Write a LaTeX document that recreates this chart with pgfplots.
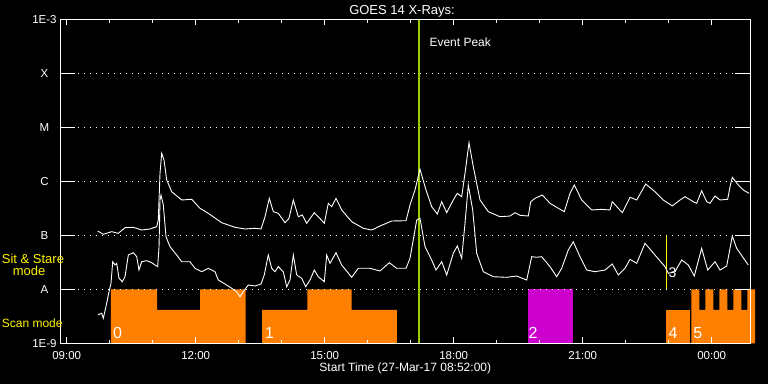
\documentclass[border=0pt]{standalone}
\usepackage{pgfplots}
\pgfplotsset{compat=1.18}
\usepackage{fontspec}
\setmainfont{Liberation Sans}
\definecolor{goesorange}{RGB}{255,128,0}
\definecolor{goesmag}{RGB}{204,0,204}
\definecolor{peakgreen}{RGB}{153,204,0}
\begin{document}
\begin{tikzpicture}[x=1pt,y=1pt]
\fill[black] (0,0) rectangle (768,384);
\begin{axis}[
  at={(60.3pt,40.7pt)}, anchor=south west,
  scale only axis, width=690pt, height=324pt,
  xmin=8.851, xmax=24.898, ymin=-9, ymax=-3,
  clip=false, axis on top,
  axis line style={white, line width=1pt},
  xtick={9,12,15,18,21,24},
  xticklabels={09:00,12:00,15:00,18:00,21:00,00:00},
  minor xtick={10,11,13,14,16,17,19,20,22,23},
  ytick={-9,-8,-7,-6,-5,-4,-3},
  yticklabels={1E-9,A,B,C,M,X,1E-3},
  tick align=inside,
  tick style={white, line width=1pt},
  xtick style={/pgfplots/major tick length=6pt, /pgfplots/minor tick length=3.5pt},
  ytick style={/pgfplots/major tick length=15pt},
  ymajorgrids,
  major grid style={white, line width=1pt, dash pattern=on 1pt off 5pt},
  /pgf/number format/assume math mode=true,
  xticklabel style={font=\fontsize{11.5}{13}\selectfont, text=white, anchor=base, yshift=-15.7pt},
  yticklabel style={font=\fontsize{11.5}{13}\selectfont, text=white, anchor=center, xshift=-15.8pt},
  title={},
  xlabel={Start Time (27-Mar-17 08:52:00)},
  xlabel style={font=\fontsize{12}{14}\selectfont, text=white, anchor=base, at={(axis description cs:0.5,0)}, yshift=-28.4pt},
]
% observing mode blocks
\addplot[fill=goesorange, draw=none] coordinates {(10.03,-9)(10.03,-8)(11.10,-8)(11.10,-8.383)(12.10,-8.383)(12.10,-8)(13.163,-8)(13.163,-9)} -- cycle;
\addplot[fill=goesorange, draw=none] coordinates {(13.542,-9)(13.542,-8.383)(14.595,-8.383)(14.595,-8)(15.628,-8)(15.628,-8.383)(16.681,-8.383)(16.681,-9)} -- cycle;
\addplot[fill=goesmag, draw=none] coordinates {(19.728,-9)(19.728,-8)(20.767,-8)(20.767,-9)} -- cycle;
\addplot[fill=goesorange, draw=none] coordinates {(22.947,-9)(22.947,-8.383)(23.505,-8.383)(23.505,-9)} -- cycle;
\addplot[fill=goesorange, draw=none] coordinates {(23.528,-9)(23.528,-8)(23.714,-8)(23.714,-8.383)(23.853,-8.383)(23.853,-8)(24.040,-8)(24.040,-8.383)(24.179,-8.383)(24.179,-8)(24.365,-8)(24.365,-8.383)(24.505,-8.383)(24.505,-8)(24.691,-8)(24.691,-8.383)(24.830,-8.383)(24.830,-8)(25.009,-8)(25.009,-9)} -- cycle;
% event peak and marker lines
\addplot[peakgreen, line width=2pt] coordinates {(17.193,-9)(17.193,-3)};
\addplot[yellow, line width=1pt] coordinates {(22.944,-7)(22.944,-8)};
% long channel
\addplot[white, line width=0.9pt] coordinates {
(9.721,-6.920)(9.851,-6.981)(10.047,-6.933)(10.200,-6.963)(10.356,-6.859)(10.549,-6.852)(10.744,-6.902)(10.937,-6.883)(11.093,-6.841)(11.130,-6.717)(11.170,-5.852)(11.209,-5.481)(11.263,-5.606)(11.326,-5.976)(11.442,-6.193)(11.674,-6.346)(11.907,-6.333)(12.100,-6.500)(12.293,-6.593)(12.605,-6.767)(12.914,-6.852)(13.147,-6.883)(13.379,-6.870)(13.519,-6.883)(13.612,-6.656)(13.712,-6.315)(13.805,-6.563)(13.921,-6.593)(14.077,-6.767)(14.170,-6.685)(14.270,-6.346)(14.386,-6.656)(14.479,-6.624)(14.581,-6.778)(14.758,-6.581)(14.851,-6.656)(14.991,-6.778)(15.084,-6.407)(15.163,-6.470)(15.263,-6.315)(15.395,-6.531)(15.628,-6.748)(15.898,-6.870)(16.093,-6.902)(16.286,-6.828)(16.558,-6.735)(16.891,-6.730)(16.984,-6.439)(17.100,-6.161)(17.216,-5.778)(17.356,-6.161)(17.488,-6.470)(17.619,-6.606)(17.721,-6.378)(17.837,-6.581)(17.991,-6.346)(18.084,-6.222)(18.186,-6.285)(18.263,-5.852)(18.356,-5.285)(18.456,-5.730)(18.612,-6.346)(18.805,-6.563)(19.077,-6.656)(19.309,-6.643)(19.426,-6.581)(19.542,-6.630)(19.735,-6.643)(19.791,-6.378)(19.891,-6.315)(20.060,-6.254)(20.240,-6.407)(20.433,-6.500)(20.572,-6.563)(20.705,-6.222)(20.805,-6.069)(20.977,-6.346)(21.209,-6.531)(21.442,-6.519)(21.635,-6.531)(21.688,-6.378)(21.921,-6.581)(22.100,-6.296)(22.256,-6.346)(22.465,-6.050)(22.681,-6.193)(22.874,-6.346)(23.084,-6.457)(23.263,-6.346)(23.379,-6.285)(23.572,-6.378)(23.651,-6.407)(23.767,-6.174)(23.884,-6.378)(23.960,-6.407)(24.077,-6.272)(24.193,-6.346)(24.372,-6.333)(24.426,-6.100)(24.479,-5.926)(24.619,-6.069)(24.735,-6.161)(24.867,-6.222)
};
% short channel
\addplot[white, line width=0.9pt] coordinates {
(9.721,-8.476)(9.814,-8.444)(9.851,-8.537)(9.930,-8.259)(9.984,-8.044)(10.030,-7.889)(10.070,-7.489)(10.123,-7.550)(10.163,-7.519)(10.216,-7.796)(10.293,-7.859)(10.356,-7.767)(10.433,-7.365)(10.549,-7.322)(10.628,-7.396)(10.681,-7.643)(10.744,-7.489)(10.860,-7.470)(10.977,-7.507)(11.053,-7.550)(11.116,-7.581)(11.147,-7.211)(11.170,-6.346)(11.193,-6.254)(11.247,-6.439)(11.309,-7.026)(11.402,-7.211)(11.558,-7.365)(11.674,-7.489)(11.867,-7.489)(11.984,-7.611)(12.140,-7.674)(12.293,-7.611)(12.449,-7.674)(12.526,-7.828)(12.681,-7.902)(12.837,-7.981)(12.953,-8.044)(13.030,-8.137)(13.107,-8.044)(13.223,-7.920)(13.379,-7.939)(13.519,-7.902)(13.595,-7.735)(13.688,-7.365)(13.767,-7.611)(13.844,-7.674)(13.921,-7.581)(14.037,-7.674)(14.116,-7.952)(14.193,-7.828)(14.270,-7.365)(14.349,-7.735)(14.465,-7.796)(14.558,-7.952)(14.658,-7.828)(14.758,-7.643)(14.851,-7.767)(14.991,-7.859)(15.047,-7.365)(15.123,-7.519)(15.263,-7.322)(15.395,-7.550)(15.628,-7.778)(15.781,-7.611)(16.053,-7.611)(16.286,-7.661)(16.502,-7.507)(16.674,-7.611)(16.891,-7.611)(16.984,-7.426)(17.140,-6.717)(17.216,-6.685)(17.333,-7.211)(17.488,-7.457)(17.588,-7.643)(17.721,-7.489)(17.837,-7.735)(17.991,-7.333)(18.084,-7.198)(18.186,-7.426)(18.263,-6.778)(18.340,-6.069)(18.442,-6.531)(18.535,-7.333)(18.688,-7.674)(18.921,-7.767)(19.233,-7.778)(19.465,-7.754)(19.698,-7.828)(19.814,-7.396)(19.930,-7.407)(20.047,-7.396)(20.240,-7.581)(20.395,-7.767)(20.512,-7.611)(20.665,-7.272)(20.781,-7.119)(20.937,-7.396)(21.093,-7.643)(21.286,-7.674)(21.519,-7.643)(21.688,-7.531)(21.828,-7.735)(21.984,-7.611)(22.100,-7.444)(22.256,-7.519)(22.449,-7.148)(22.681,-7.365)(22.914,-7.581)(22.991,-7.704)(23.147,-7.674)(23.302,-7.457)(23.456,-7.550)(23.595,-7.754)(23.767,-7.241)(23.907,-7.643)(24.077,-7.489)(24.193,-7.643)(24.349,-7.569)(24.479,-7.013)(24.581,-7.241)(24.851,-7.550)
};
\node[anchor=base west, text=white, inner sep=0pt, font=\fontsize{12}{14}\selectfont] at (axis cs:17.433,-3.507) {Event Peak};
\node[anchor=base west, text=white, inner sep=0pt, font=\fontsize{16}{18}\selectfont] at (axis cs:10.077,-8.918) {0};
\node[anchor=base west, text=white, inner sep=0pt, font=\fontsize{16}{18}\selectfont] at (axis cs:13.612,-8.918) {1};
\node[anchor=base west, text=white, inner sep=0pt, font=\fontsize{16}{18}\selectfont] at (axis cs:19.735,-8.918) {2};
\node[anchor=base west, text=white, inner sep=0pt, font=\fontsize{14}{16}\selectfont] at (axis cs:22.991,-7.778) {3};
\node[anchor=base west, text=white, inner sep=0pt, font=\fontsize{16}{18}\selectfont] at (axis cs:22.991,-8.918) {4};
\node[anchor=base west, text=white, inner sep=0pt, font=\fontsize{16}{18}\selectfont] at (axis cs:23.572,-8.918) {5};
\end{axis}
\node[anchor=base, text=white, inner sep=0pt, font=\fontsize{13}{15}\selectfont] at (402,370) {GOES 14 X-Rays:};
\node[anchor=base west, text=yellow, inner sep=0pt, font=\fontsize{13}{15}\selectfont] at (1.7,120.7) {Sit \& Stare};
\node[anchor=base west, text=yellow, inner sep=0pt, font=\fontsize{13}{15}\selectfont] at (12.7,109) {mode};
\node[anchor=base west, text=yellow, inner sep=0pt, font=\fontsize{12}{14}\selectfont] at (1.7,56.7) {Scan mode};
\pgfresetboundingbox
\useasboundingbox (0,0) rectangle (768,384);
\end{tikzpicture}
\end{document}
